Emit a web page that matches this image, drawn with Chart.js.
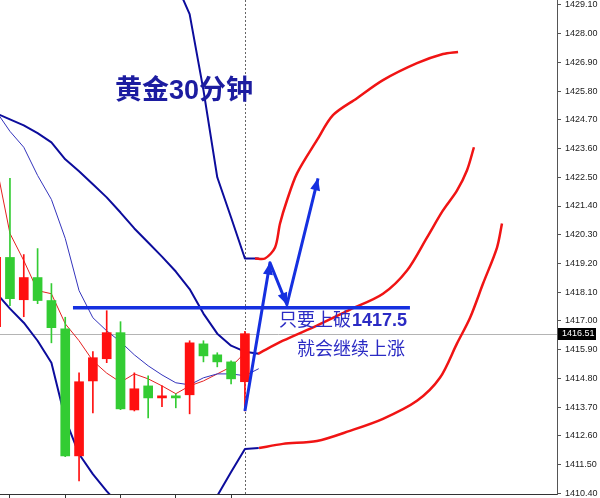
<!DOCTYPE html>
<html>
<head>
<meta charset="utf-8">
<script src="https://cdn.jsdelivr.net/npm/chart.js@4/dist/chart.umd.min.js"></script>
<style>
  html, body { margin: 0; padding: 0; background: #fff; }
  canvas { display: block; }
</style>
</head>
<body>
<canvas id="chart" width="600" height="498"></canvas>
<script>
// bar index (30 min bars), -1 is the partly hidden bar at the left edge
var barIdx = [-1, 0, 1, 2, 3, 4, 5, 6, 7, 8, 9, 10, 11, 12, 13, 14, 15, 16, 17];
var opens  = [1416.78, 1419.43, 1417.81, 1418.66, 1417.78, 1416.70, 1411.83, 1414.70, 1415.55, 1416.55, 1413.59, 1414.51, 1414.05, 1414.13, 1414.17, 1416.12, 1415.70, 1415.43, 1414.67];
var highs  = [1419.60, 1422.46, 1419.54, 1419.77, 1418.43, 1417.14, 1415.01, 1415.82, 1417.39, 1416.97, 1415.01, 1414.90, 1414.51, 1414.21, 1416.24, 1416.24, 1415.78, 1415.47, 1416.60];
var lows   = [1416.50, 1417.58, 1417.16, 1417.66, 1416.16, 1411.80, 1410.87, 1413.48, 1415.40, 1413.60, 1413.55, 1413.28, 1413.71, 1413.67, 1413.44, 1415.43, 1415.24, 1414.59, 1413.55];
var closes = [1419.43, 1417.85, 1418.66, 1417.78, 1416.74, 1411.83, 1414.67, 1415.59, 1416.55, 1413.63, 1414.40, 1414.05, 1414.13, 1414.05, 1416.16, 1415.66, 1415.43, 1414.78, 1416.51];

// indicator lines, bar -1 .. 18
var lineIdx   = [-1, 0, 1, 2, 3, 4, 5, 6, 7, 8, 9, 10, 11, 12, 13, 14, 15, 16, 17, 18];
var bandUpper = [null, null, null, null, null, null, null, null, null, null, null, null, 1431.0, 1429.95, 1428.75, 1425.84, 1422.50, 1420.96, 1419.39, 1419.39];
var bandMid   = [1424.95, 1424.72, 1424.49, 1424.19, 1423.84, 1423.19, 1422.73, 1422.23, 1421.73, 1421.15, 1420.54, 1420.00, 1419.46, 1418.89, 1418.22, 1417.28, 1416.51, 1416.05, 1415.82, 1415.74];
var bandLower = [1418.08, 1417.47, 1416.93, 1416.24, 1415.40, 1413.25, 1411.90, 1411.13, 1410.48, 1409.90, 1409.50, 1409.30, 1409.25, 1409.30, 1409.60, 1409.80, 1410.30, 1411.21, 1412.09, 1412.13];
var maSlow    = [1425.03, 1424.26, 1423.65, 1422.57, 1421.65, 1420.16, 1418.16, 1417.12, 1416.62, 1416.20, 1415.70, 1415.28, 1414.93, 1414.63, 1414.55, 1414.82, 1414.97, 1414.97, 1414.90, 1415.17];
var maFast    = [1423.00, 1420.35, 1419.31, 1418.16, 1418.04, 1416.89, 1416.24, 1415.47, 1415.00, 1414.65, 1414.97, 1414.78, 1414.51, 1414.21, 1414.51, 1414.70, 1414.97, 1415.24, 1415.78, null];

// hand drawn forecast (bar index, price)
var upperPathX = [17.73, 18.45, 19.18, 19.54, 20.04, 20.77, 22.21, 23.37, 25.11, 26.99, 29.45, 31.33, 32.42];
var upperPathY = [1419.39, 1419.39, 1419.81, 1420.73, 1421.61, 1422.65, 1423.92, 1424.88, 1425.53, 1426.22, 1426.87, 1427.22, 1427.30];
var midPathX   = [17.95, 19.75, 22.21, 24.60, 26.99, 28.73, 30.17, 31.33, 32.34, 33.07, 33.57];
var midPathY   = [1415.74, 1416.24, 1416.82, 1417.43, 1418.04, 1418.93, 1420.19, 1421.23, 1421.99, 1422.77, 1423.65];
var lowPathX   = [18.02, 19.75, 22.21, 24.60, 26.99, 29.45, 31.11, 32.34, 33.29, 34.23, 35.24, 35.60];
var lowPathY   = [1412.13, 1412.29, 1412.40, 1412.79, 1413.25, 1413.94, 1414.82, 1416.13, 1417.12, 1418.43, 1419.81, 1420.73];
var arrowX     = [17.00, 18.81, 20.04, 22.29];
var arrowY     = [1413.55, 1419.23, 1417.62, 1422.46];
var breakLevel = 1417.5;
var breakFromTo = [4.56, 28.94];

var lastPrice = 1416.51;
var lastBar = 17;
var priceTicks = [1410.40, 1411.50, 1412.60, 1413.70, 1414.80, 1415.90, 1417.00, 1418.10, 1419.20, 1420.30, 1421.40, 1422.50, 1423.60, 1424.70, 1425.80, 1426.90, 1428.00, 1429.10];
var timeTicks = [0, 4, 8, 12, 16];

var upColor = '#ff1010';
var downColor = '#33cc33';

function pts(xs, ys) {
    return xs.map(function (x, i) { return { x: x, y: ys[i] }; });
}

function candleColor(ctx) {
    var i = ctx.dataIndex;
    return closes[i] >= opens[i] ? upColor : downColor;
}

function lineSet(data, color, width, order, tension) {
    return {
        type: 'line', data: data, borderColor: color, borderWidth: width,
        pointRadius: 0, tension: tension || 0, order: order, spanGaps: false,
        borderJoinStyle: 'round', borderCapStyle: 'butt'
    };
}

// current price line, separator, arrow heads, notes, price tag
var overlay = {
    id: 'overlay',
    beforeDatasetsDraw: function (chart) {
        var ctx = chart.ctx, a = chart.chartArea, x = chart.scales.x, y = chart.scales.y;
        ctx.save();
        var py = Math.round(y.getPixelForValue(lastPrice)) + 0.5;
        ctx.strokeStyle = '#b4b4b4';
        ctx.lineWidth = 1;
        ctx.beginPath(); ctx.moveTo(a.left, py); ctx.lineTo(a.right, py); ctx.stroke();
        var vx = Math.round(x.getPixelForValue(lastBar)) + 0.5;
        ctx.strokeStyle = '#666';
        ctx.setLineDash([2, 2]);
        ctx.beginPath(); ctx.moveTo(vx, a.top); ctx.lineTo(vx, a.bottom); ctx.stroke();
        ctx.restore();
    },
    afterDatasetsDraw: function (chart) {
        var ctx = chart.ctx, x = chart.scales.x, y = chart.scales.y;
        ctx.save();
        // arrow heads
        ctx.fillStyle = '#1530e0';
        for (var i = 1; i < arrowX.length; i++) {
            var x0 = x.getPixelForValue(arrowX[i - 1]), y0 = y.getPixelForValue(arrowY[i - 1]);
            var x1 = x.getPixelForValue(arrowX[i]), y1 = y.getPixelForValue(arrowY[i]);
            var ang = Math.atan2(y1 - y0, x1 - x0);
            var L = 12, W = 5;
            ctx.beginPath();
            ctx.moveTo(x1, y1);
            ctx.lineTo(x1 - L * Math.cos(ang) + W * Math.sin(ang), y1 - L * Math.sin(ang) - W * Math.cos(ang));
            ctx.lineTo(x1 - L * Math.cos(ang) - W * Math.sin(ang), y1 - L * Math.sin(ang) + W * Math.cos(ang));
            ctx.closePath();
            ctx.fill();
        }
        // notes
        ctx.textBaseline = 'alphabetic';
        ctx.textAlign = 'left';
        ctx.fillStyle = '#1c1ca0';
        ctx.font = 'bold 27px "Liberation Sans", "Noto Sans CJK SC"';
        ctx.fillText('黄金30分钟', 115, 99);

        ctx.fillStyle = '#2b2bc4';
        ctx.font = '18px "Noto Sans CJK SC"';
        var t1 = '只要上破';
        ctx.fillText(t1, 279, 326);
        var w1 = ctx.measureText(t1).width;
        ctx.font = 'bold 18px "Liberation Sans"';
        ctx.fillText('1417.5', 279 + w1 + 1, 326);
        ctx.font = '18px "Noto Sans CJK SC"';
        ctx.fillText('就会继续上涨', 297, 355);
        ctx.restore();
    },
    afterDraw: function (chart) {
        var ctx = chart.ctx, a = chart.chartArea, y = chart.scales.y;
        var py = y.getPixelForValue(lastPrice);
        ctx.save();
        ctx.fillStyle = '#000';
        ctx.fillRect(a.right + 1, Math.round(py) - 6, 38, 12);
        ctx.fillStyle = '#fff';
        ctx.font = '9px "Liberation Sans"';
        ctx.textBaseline = 'middle';
        ctx.fillText(lastPrice.toFixed(2), a.right + 5, Math.round(py));
        ctx.restore();
    }
};

function drawChart() {
    var ctx = document.getElementById('chart').getContext('2d');

    var bodies = barIdx.map(function (b, i) { return { x: b, y: [opens[i], closes[i]] }; });
    var wicks = barIdx.map(function (b, i) { return { x: b, y: [lows[i], highs[i]] }; });

    var chart = new Chart(ctx, {
        type: 'bar',
        data: {
            datasets: [
                // hand drawn forecast on top
                lineSet(pts(arrowX, arrowY), '#1530e0', 3, 0),
                lineSet(pts(breakFromTo, [breakLevel, breakLevel]), '#1530e0', 3.5, 0),
                lineSet(pts(upperPathX, upperPathY), '#f01414', 2.5, 0, 0.3),
                lineSet(pts(midPathX, midPathY), '#f01414', 2.5, 0, 0.3),
                lineSet(pts(lowPathX, lowPathY), '#f01414', 2.5, 0, 0.3),
                // candles
                { type: 'bar', data: bodies, backgroundColor: candleColor, borderWidth: 0, barThickness: 9, grouped: false, order: 1 },
                { type: 'bar', data: wicks, backgroundColor: candleColor, borderWidth: 0, barThickness: 1, grouped: false, order: 1 },
                // indicators
                lineSet(pts(lineIdx, bandUpper), '#0c0c9c', 2, 2),
                lineSet(pts(lineIdx, bandMid), '#0c0c9c', 2, 2),
                lineSet(pts(lineIdx, bandLower), '#0c0c9c', 2, 2),
                lineSet(pts(lineIdx, maSlow), '#3434bc', 1, 2),
                lineSet(pts(lineIdx, maFast), '#e42020', 1, 2)
            ]
        },
        options: {
            responsive: false,
            animation: false,
            layout: { padding: 0 },
            plugins: { legend: { display: false }, tooltip: { enabled: false } },
            scales: {
                x: {
                    type: 'linear', min: -0.72, max: 39.58, offset: false,
                    grid: { drawOnChartArea: false, offset: false, tickLength: 4, color: '#333' },
                    border: { color: '#333' },
                    ticks: { display: false },
                    afterBuildTicks: function (s) { s.ticks = timeTicks.map(function (v) { return { value: v }; }); },
                    afterFit: function (s) { s.height = 4; s.paddingLeft = 0; s.paddingRight = 0; }
                },
                y: {
                    type: 'linear', position: 'right', min: 1410.37, max: 1429.29,
                    grid: { drawOnChartArea: false, tickLength: 4, color: '#555' },
                    border: { color: '#555' },
                    ticks: {
                        padding: 4, color: '#222',
                        font: { size: 9, family: 'Liberation Sans' },
                        callback: function (v) { return Number(v).toFixed(2); }
                    },
                    afterBuildTicks: function (s) { s.ticks = priceTicks.map(function (v) { return { value: v }; }); },
                    afterFit: function (s) { s.width = 43; s.paddingTop = 0; s.paddingBottom = 0; }
                }
            }
        },
        plugins: [overlay]
    });
}

drawChart();
</script>
</body>
</html>
